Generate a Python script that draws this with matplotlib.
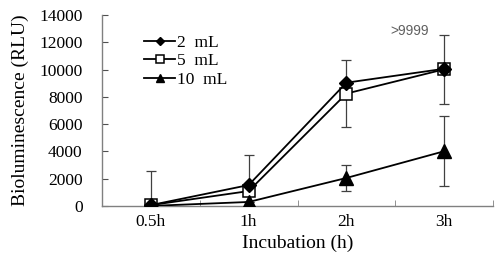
import matplotlib
matplotlib.use('Agg')
import matplotlib.pyplot as plt
import numpy as np

times = ['0.5h', '1h', '2h', '3h']
vol_2 = [60, 1530, 9040, 10060]
vol_5 = [60, 1090, 8240, 10020]
vol_10 = [0, 290, 2050, 4010]
err_5 = [2480, 2630, 2480, 2520]
err_10 = [0, 0, 920, 2550]
ticks_y = [0, 2000, 4000, 6000, 8000, 10000, 12000, 14000]

plt.rcParams['font.family'] = ['Liberation Serif', 'DejaVu Serif']

fig = plt.figure(figsize=(5, 2.6), dpi=100)
ax = fig.add_axes([0.204, 0.208, 0.782, 0.734])

x = np.arange(len(times))
ecol = '#404040'

ax.errorbar(x, vol_5, yerr=err_5, fmt='none', ecolor=ecol, elinewidth=0.9,
            capsize=3.5, capthick=0.9, zorder=1)
ax.errorbar(x, vol_10, yerr=err_10, fmt='none', ecolor=ecol, elinewidth=0.9,
            capsize=3.5, capthick=0.9, zorder=1)

l5, = ax.plot(x, vol_5, color='black', lw=1.3, marker='s', ms=9,
              mfc='white', mec='black', mew=1.1, zorder=3)
l2, = ax.plot(x, vol_2, color='black', lw=1.3, marker='D', ms=7.5,
              mfc='black', mec='black', zorder=4)
l10, = ax.plot(x, vol_10, color='black', lw=1.3, marker='^', ms=10,
               mfc='black', mec='black', zorder=5)

ax.set_xlim(-0.5, 3.5)
ax.set_ylim(0, 14000)
ax.set_yticks(ticks_y)
ax.set_xticks(x)
ax.set_xticklabels(times)
ax.set_xticks(np.arange(-0.5, 3.6, 1), minor=True)
ax.tick_params(axis='x', which='major', length=0, labelsize=12.5, pad=6)
ax.tick_params(axis='x', which='minor', direction='in', length=4, color='#808080')
ax.tick_params(axis='y', direction='in', length=4, labelsize=12.5, color='#505050', pad=14)

for s in ['top', 'right']:
    ax.spines[s].set_visible(False)
for s in ['left', 'bottom']:
    ax.spines[s].set_color('#808080')
    ax.spines[s].set_linewidth(1)

ax.set_xlabel('Incubation (h)', fontsize=14, labelpad=3)
ax.set_ylabel('Bioluminescence (RLU)', fontsize=14, labelpad=7)

ax.text(2.65, 12850, '>9999', family=['Liberation Sans', 'DejaVu Sans'],
        fontsize=10, color='#606060', ha='center', va='center')

ax.legend([l2, l5, l10], ['2  mL', '5  mL', '10  mL'], loc='upper left',
          bbox_to_anchor=(0.09, 0.935), frameon=False, fontsize=12.5,
          markerscale=0.6, handlelength=1.8, handletextpad=0.1,
          labelspacing=0.15, borderaxespad=0)

fig.savefig('out.png', dpi=100)
